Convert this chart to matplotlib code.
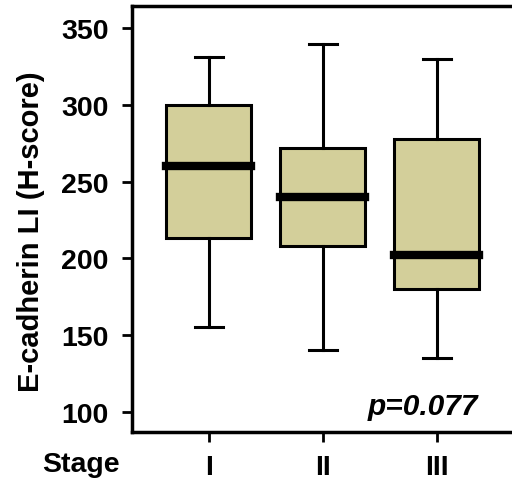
import matplotlib
matplotlib.use("Agg")
import matplotlib.pyplot as plt

# values (H-score)
stages = ["I", "II", "III"]
whisker_low = [155, 140, 135]
q1 = [213, 208, 180]
medians = [260, 240, 202]
q3 = [300, 272, 278]
whisker_high = [331, 340, 330]
p_text = "p=0.077"

plt.rcParams['font.family'] = ['Liberation Sans', 'DejaVu Sans']
plt.rcParams['font.weight'] = 'bold'

stats = []
for i, s in enumerate(stages):
    stats.append({'label': s, 'whislo': whisker_low[i], 'q1': q1[i], 'med': medians[i],
                  'q3': q3[i], 'whishi': whisker_high[i], 'fliers': []})

fig = plt.figure(figsize=(5.12, 4.89), dpi=100)
ax = fig.add_axes([0.258, 0.1145, 0.742, 0.871])

ax.bxp(stats, positions=[1, 2, 3], widths=0.745, patch_artist=True, showfliers=False,
       boxprops=dict(facecolor='#d3cf9a', edgecolor='black', linewidth=2.2),
       medianprops=dict(color='black', linewidth=6, solid_capstyle='projecting'),
       whiskerprops=dict(color='black', linewidth=2.2),
       capprops=dict(color='black', linewidth=2.2),
       capwidths=0.245)

ax.set_xlim(0.326, 3.66)
ax.set_ylim(86.8, 364.5)
ax.set_yticks([100, 150, 200, 250, 300, 350])
ax.set_xticks([1, 2, 3])
ax.set_xticklabels(stages)
ax.tick_params(axis='both', labelsize=20.5, width=2, length=7, direction='out')
ax.tick_params(axis='y', pad=10)
ax.tick_params(axis='x', pad=9)
for sp in ['left', 'bottom', 'top']:
    ax.spines[sp].set_linewidth(2.5)
ax.spines['right'].set_visible(False)

ax.set_ylabel("E-cadherin LI (H-score)", fontsize=21, fontweight='bold')
ax.yaxis.set_label_coords(-0.229, 0.472)
ax.text(3.365, 103.6, p_text, ha='right', va='center', fontsize=21.5,
        fontweight='bold', fontstyle='italic')
fig.text(81 / 512, 1 - 465 / 489, "Stage", ha='center', va='center',
         fontsize=20.5, fontweight='bold')

fig.savefig("out.png", dpi=100)
